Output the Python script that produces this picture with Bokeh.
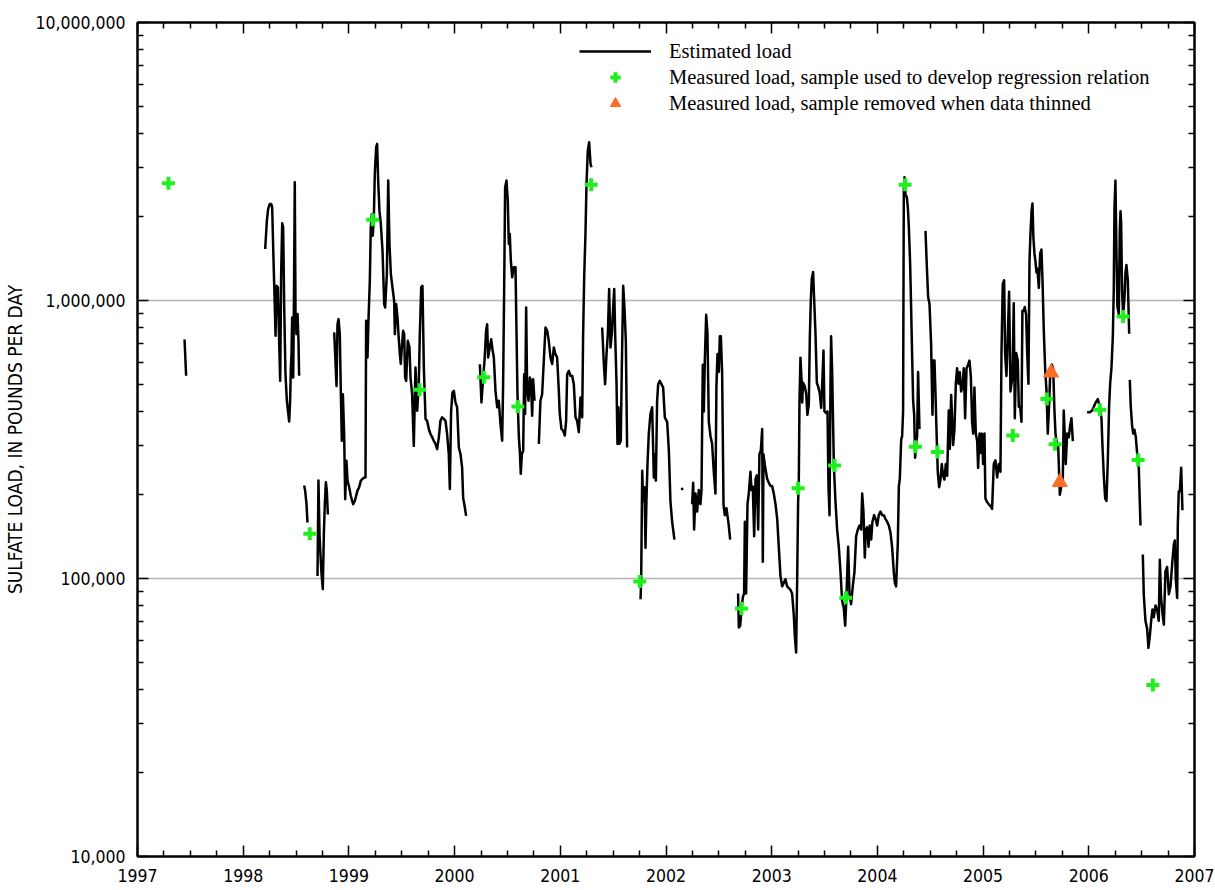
import math

from bokeh.embed import file_html
from bokeh.models import (FixedTicker, Legend, LegendItem, LinearAxis, LogAxis,
                          NumeralTickFormatter, Range1d)
from bokeh.plotting import figure
from bokeh.resources import INLINE

NAN = float("nan")

# Estimated daily sulfate load (thousands of pounds per day).
# NaN entries mark breaks in the estimated record.
est_year = [
    1997.445, 1997.460, NAN,
    1998.208, 1998.224, 1998.236, 1998.252, 1998.265, 1998.274, 1998.287, 1998.299,
    1998.306, 1998.315, 1998.328, 1998.337, 1998.350, 1998.359, 1998.369, 1998.378,
    1998.388, 1998.400, 1998.413, 1998.425, 1998.435, 1998.444, 1998.451, 1998.457,
    1998.463, 1998.473, 1998.479, 1998.488, 1998.495, 1998.504, 1998.514, 1998.523,
    1998.529, NAN,
    1998.577, 1998.586, 1998.599, 1998.608, NAN,
    1998.703, 1998.712, 1998.722, 1998.731, 1998.741, 1998.753, 1998.763, 1998.772,
    1998.782, 1998.791, 1998.801, NAN,
    1998.861, 1998.870, 1998.883, 1998.892, 1998.902, 1998.914, 1998.924, 1998.933,
    1998.943, 1998.955, 1998.965, 1998.977, 1998.987, 1999.003, 1999.018, 1999.040,
    1999.056, 1999.081, 1999.097, 1999.113, 1999.144, 1999.157, 1999.163, 1999.176,
    1999.185, 1999.198, 1999.207, 1999.217, 1999.226, 1999.236, 1999.245, 1999.258,
    1999.267, 1999.277, 1999.289, 1999.302, 1999.318, 1999.334, 1999.343, 1999.359,
    1999.372, 1999.384, 1999.397, 1999.412, 1999.428, 1999.435, 1999.447, 1999.460,
    1999.469, 1999.482, 1999.491, 1999.501, 1999.513, 1999.523, 1999.532, 1999.542,
    1999.557, 1999.573, 1999.583, 1999.598, 1999.614, 1999.630, 1999.646, 1999.661,
    1999.671, 1999.684, 1999.696, 1999.709, 1999.725, 1999.740, 1999.756, 1999.772,
    1999.788, 1999.803, 1999.819, 1999.835, 1999.851, 1999.866, 1999.882, 1999.898,
    1999.914, 1999.929, 1999.945, 1999.955, 1999.967, 1999.980, 1999.993, 2000.008,
    2000.024, 2000.040, 2000.056, 2000.071, 2000.081, 2000.097, 2000.109, NAN,
    2000.239, 2000.254, 2000.270, 2000.283, 2000.298, 2000.308, 2000.317, 2000.333,
    2000.346, 2000.358, 2000.371, 2000.387, 2000.403, 2000.418, 2000.434, 2000.450,
    2000.459, 2000.469, 2000.478, 2000.491, 2000.503, 2000.513, 2000.522, 2000.532,
    2000.545, 2000.560, 2000.576, 2000.585, 2000.595, 2000.608, 2000.617, 2000.626,
    2000.636, 2000.649, 2000.658, 2000.667, 2000.677, 2000.686, 2000.699, 2000.712,
    2000.721, 2000.734, 2000.743, 2000.756, NAN,
    2000.797, 2000.812, 2000.828, 2000.844, 2000.860, 2000.876, 2000.891, 2000.907,
    2000.923, 2000.939, 2000.954, 2000.970, 2000.986, 2000.995, 2001.011, 2001.027,
    2001.043, 2001.055, 2001.065, 2001.081, 2001.096, 2001.112, 2001.128, 2001.144,
    2001.159, 2001.175, 2001.191, 2001.207, 2001.216, 2001.226, 2001.238, 2001.248,
    2001.260, 2001.273, 2001.286, 2001.295, NAN,
    2001.396, 2001.412, 2001.424, 2001.437, 2001.450, 2001.462, 2001.475, 2001.487,
    2001.500, 2001.510, 2001.519, 2001.532, 2001.541, 2001.550, 2001.560, 2001.572,
    2001.582, 2001.595, 2001.607, 2001.620, 2001.632, NAN,
    2001.759, 2001.765, 2001.775, 2001.784, 2001.797, 2001.806, 2001.815, 2001.825,
    2001.837, 2001.853, 2001.869, 2001.885, 2001.894, 2001.904, 2001.916, 2001.926,
    2001.941, 2001.957, 2001.973, 2001.989, 2002.011, 2002.027, 2002.042, 2002.058,
    2002.080, NAN,
    2002.150, 2002.156, NAN,
    2002.247, 2002.257, 2002.266, 2002.279, 2002.295, 2002.310, 2002.326, 2002.336,
    2002.348, 2002.358, 2002.367, 2002.380, 2002.392, 2002.405, 2002.421, 2002.436,
    2002.452, 2002.468, 2002.477, 2002.487, 2002.500, 2002.509, 2002.519, 2002.531,
    2002.544, 2002.556, 2002.572, 2002.594, 2002.607, NAN,
    2002.682, 2002.689, 2002.702, 2002.714, 2002.727, 2002.739, 2002.746, 2002.758,
    2002.771, 2002.783, 2002.799, 2002.809, 2002.821, 2002.834, 2002.847, 2002.859,
    2002.872, 2002.884, 2002.897, 2002.910, 2002.916, 2002.922, 2002.935, 2002.957,
    2002.973, 2002.988, 2003.004, 2003.020, 2003.036, 2003.052, 2003.067, 2003.083,
    2003.099, 2003.115, 2003.130, 2003.146, 2003.162, 2003.178, 2003.193, 2003.209,
    2003.219, 2003.231, 2003.241, 2003.250, 2003.256, 2003.263, 2003.272, 2003.282,
    2003.288, 2003.297, 2003.313, 2003.326, 2003.338, 2003.351, 2003.361, 2003.370,
    2003.379, 2003.392, 2003.402, 2003.414, 2003.427, 2003.439, 2003.455, 2003.468,
    2003.480, 2003.490, 2003.499, 2003.515, 2003.528, 2003.537, 2003.547, 2003.556,
    2003.562, 2003.572, 2003.588, 2003.603, 2003.619, 2003.635, 2003.651, 2003.666,
    2003.682, 2003.695, 2003.707, 2003.723, 2003.736, 2003.751, 2003.767, 2003.783,
    2003.799, 2003.815, 2003.830, 2003.846, 2003.856, 2003.868, 2003.881, 2003.890,
    2003.903, 2003.916, 2003.928, 2003.941, 2003.953, 2003.969, 2003.982, 2003.998,
    2004.013, 2004.029, 2004.045, 2004.061, 2004.076, 2004.092, 2004.108, 2004.124,
    2004.139, 2004.155, 2004.165, 2004.177, 2004.193, 2004.203, 2004.212, 2004.225,
    2004.234, 2004.243, 2004.250, 2004.256, 2004.266, 2004.278, 2004.288, 2004.297,
    2004.310, 2004.319, 2004.329, 2004.338, 2004.348, 2004.357, 2004.367, 2004.376,
    2004.385, 2004.398, NAN,
    2004.455, 2004.467, 2004.480, 2004.493, 2004.508, 2004.521, 2004.530, 2004.540,
    2004.549, 2004.559, 2004.571, 2004.584, 2004.597, 2004.609, 2004.622, 2004.634,
    2004.647, 2004.660, 2004.675, 2004.685, 2004.698, 2004.707, 2004.716, 2004.729,
    2004.742, 2004.754, 2004.767, 2004.780, 2004.792, 2004.805, 2004.817, 2004.830,
    2004.843, 2004.858, 2004.871, 2004.884, 2004.896, 2004.906, 2004.918, 2004.931,
    2004.944, 2004.953, 2004.966, 2004.975, 2004.988, 2005.000, 2005.013, 2005.022,
    2005.038, 2005.054, 2005.070, 2005.085, 2005.101, 2005.117, 2005.133, 2005.149,
    2005.164, 2005.174, 2005.186, 2005.199, 2005.208, 2005.221, 2005.234, 2005.246,
    2005.259, 2005.278, 2005.290, 2005.300, 2005.313, 2005.328, 2005.338, 2005.350,
    2005.363, 2005.372, 2005.385, 2005.394, 2005.407, 2005.417, 2005.429, 2005.439,
    2005.448, 2005.458, 2005.467, 2005.476, 2005.486, 2005.495, 2005.505, 2005.514,
    2005.527, 2005.540, 2005.552, 2005.562, 2005.574, 2005.587, 2005.600, 2005.612,
    2005.625, 2005.637, 2005.650, 2005.663, 2005.675, 2005.685, 2005.694, 2005.710,
    2005.726, 2005.738, 2005.754, 2005.763, 2005.773, 2005.782, 2005.795, 2005.811,
    2005.823, 2005.836, 2005.849, NAN,
    2005.984, 2006.009, 2006.032, 2006.063, 2006.085, 2006.104, 2006.120, 2006.129,
    2006.142, 2006.155, 2006.167, 2006.180, 2006.192, 2006.202, 2006.214, 2006.227,
    2006.236, 2006.243, 2006.252, 2006.262, 2006.271, 2006.284, 2006.293, 2006.300,
    2006.306, 2006.315, 2006.325, 2006.337, 2006.347, 2006.356, 2006.369, 2006.382,
    NAN,
    2006.388, 2006.397, 2006.410, 2006.420, 2006.432, 2006.445, 2006.457, 2006.473,
    2006.489, NAN,
    2006.511, 2006.520, 2006.536, 2006.552, 2006.564, 2006.577, 2006.590, 2006.602,
    2006.615, 2006.631, 2006.646, 2006.662, 2006.672, 2006.684, 2006.697, 2006.710,
    2006.725, 2006.741, 2006.757, 2006.773, 2006.789, 2006.804, 2006.814, 2006.823,
    2006.836, 2006.842, 2006.851, 2006.861, 2006.874, 2006.886,
]

est_kpd = [
    724, 536, NAN,
    1532, 1937, 2134, 2225, 2225, 2164, 1391, 944,
    747, 1130, 1115, 789, 514, 1245, 1895, 1833,
    944, 543, 436, 396, 367, 436, 574, 641,
    869, 528, 894, 2662, 894, 757, 894, 716,
    536, NAN,
    216, 207, 185, 159, NAN,
    102, 225, 144, 122, 104, 91.5, 144, 185,
    222, 207, 170, NAN,
    768, 641, 493, 822, 857, 757, 460, 313,
    460, 331, 193, 265, 225, 213, 198, 185,
    190, 207, 213, 225, 231, 231, 845, 624,
    845, 1178, 1833, 2048, 1711, 1992, 2853, 3559,
    3659, 2700, 2105, 1885, 1511, 971, 944, 1245,
    2700, 1597, 1245, 1115, 998, 757, 971, 869,
    757, 641, 591, 678, 778, 757, 528, 514,
    716, 678, 528, 460, 300, 574, 401, 500,
    757, 1115, 1130, 574, 375, 369, 345, 331,
    322, 313, 305, 292, 322, 369, 380, 375,
    369, 331, 280, 210, 401, 467, 473, 430,
    413, 296, 280, 251, 195, 180, 168, NAN,
    590, 430, 528, 607, 778, 822, 624, 678,
    726, 668, 624, 473, 413, 436, 359, 313,
    500, 1115, 2554, 2700, 2287, 1597, 1735, 1391,
    1212, 1316, 1316, 800, 460, 322, 288, 238,
    280, 288, 543, 391, 944, 486, 436, 528,
    514, 385, 521, 436, NAN,
    305, 436, 460, 607, 800, 778, 716, 624,
    591, 678, 641, 624, 473, 391, 345, 340,
    327, 369, 543, 558, 536, 536, 500, 380,
    369, 336, 448, 380, 757, 1212, 1735, 2626,
    3462, 3709, 3099, 3015, NAN,
    800, 591, 500, 641, 757, 1100, 678, 757,
    944, 1100, 757, 500, 305, 413, 305, 313,
    574, 1130, 944, 716, 296, NAN,
    84.2, 98, 244, 190, 213, 129, 190, 258,
    331, 391, 413, 231, 280, 225, 436, 500,
    514, 500, 486, 380, 366, 289, 190, 160,
    138, NAN,
    212, 208, NAN,
    185, 221, 150, 202, 174, 208, 185, 208,
    587, 399, 605, 888, 766, 366, 325, 306,
    242, 202, 491, 642, 553, 743, 743, 553,
    185, 169, 179, 155, 138, NAN,
    88.3, 66.6, 67.6, 77.3, 85.7, 88.3, 160, 88.3,
    185, 202, 242, 208, 214, 142, 228, 235,
    150, 280, 289, 345, 115, 280, 256, 228,
    221, 215, 215, 202, 185, 164, 130, 102,
    93.7, 96.5, 99.4, 93.7, 92.3, 91, 88.3, 73.9,
    61.9, 54.2, 99.4, 190, 215, 436, 623, 522,
    430, 506, 491, 463, 388, 423, 743, 1000,
    1194, 1267, 1000, 766, 506, 491, 463, 411,
    522, 661, 399, 394, 399, 215, 169, 491,
    743, 553, 256, 190, 150, 130, 105.5, 83.2,
    78.4, 67.6, 85.7, 130, 88.3, 80.8, 93.7, 105.5,
    142, 150, 155, 150, 202, 174, 119, 150,
    153, 130, 155, 138, 160, 169, 164, 155,
    169, 174, 169, 169, 164, 160, 155, 146,
    130, 105.5, 96.5, 93.7, 134, 215, 228, 316,
    325, 399, 2503, 2777, 2394, 2360, 2159, 1862,
    1345, 943, 623, 436, 388, 272, 306, 325,
    553, 345, NAN,
    1780, 1345, 1030, 971, 701, 388, 608, 608,
    471, 343, 242, 213, 227, 258, 234, 227,
    258, 234, 402, 293, 457, 377, 302, 343,
    502, 570, 502, 552, 471, 486, 570, 377,
    570, 588, 608, 535, 366, 332, 486, 332,
    312, 250, 332, 283, 332, 258, 332, 194,
    188, 185, 182, 178, 258, 266, 231, 258,
    242, 647, 1146, 1183, 647, 535, 759, 1076,
    471, 535, 978, 377, 647, 608, 415, 415,
    366, 918, 918, 948, 890, 647, 502, 1386,
    1732, 2094, 2232, 1678, 1477, 1386, 1260, 1301,
    1110, 1477, 1525, 1183, 783, 570, 471, 332,
    428, 570, 588, 570, 402, 332, 312, 302,
    200, 213, 227, 402, 322, 258, 332, 322,
    354, 377, 312, NAN,
    396, 396, 402, 428, 442, 415, 377, 302,
    234, 194, 190, 266, 415, 502, 570, 735,
    1076, 2162, 2699, 1477, 948, 890, 1787, 2094,
    1904, 1076, 890, 1010, 1260, 1343, 1183, 759,
    NAN,
    518, 415, 354, 332, 343, 322, 283, 250,
    155, NAN,
    122, 87.8, 70.4, 66.0, 56.3, 61.9, 70.4, 77.4,
    72.6, 79.9, 77.4, 70.4, 116.8, 85.1, 75, 68.2,
    106, 110, 87.8, 93.6, 113, 132.5, 137, 99.7,
    85.1, 155, 206, 206, 250, 176,
]

# Measured loads of samples used to develop the regression relation
used_year = [1997.293, 1998.630, 1999.226, 1999.668, 2000.276, 2000.598, 2001.292,
             2001.752, 2002.714, 2003.250, 2003.594, 2003.701, 2004.262, 2004.360,
             2004.568, 2005.281, 2005.603, 2005.681, 2006.104, 2006.325, 2006.467,
             2006.606]
used_kpd = [2640, 145, 1950, 477, 530, 416, 2610,
            97.5, 78, 211, 255, 85.3, 2610, 298,
            285, 327, 442, 304, 405, 875, 267,
            41.4]

# Measured loads of samples removed when the data were thinned
removed_year = [2005.644, 2005.726]
removed_kpd = [550, 222]

year_ticks = list(range(1997, 2008))
load_ticks = [10_000, 100_000, 1_000_000, 10_000_000]

LABEL_FONT = "DejaVu Sans Condensed"
LEGEND_FONT = "Liberation Serif"
GREEN = "#1ef01e"
ORANGE = "#fb6d24"


def to_pounds(kpd):
    return [v * 1000 if not math.isnan(v) else NAN for v in kpd]


p = figure(
    width=1215, height=890,
    output_backend="svg", toolbar_location=None,
    x_range=Range1d(1997, 2007), y_range=Range1d(1e4, 1e7),
    y_axis_type="log",
    min_border_left=137, min_border_right=21, min_border_top=22, min_border_bottom=34,
    background_fill_color="white", border_fill_color="white",
    outline_line_color="black", outline_line_width=2,
)

x_minor = [y + q / 4 for y in range(1997, 2007) for q in (1, 2, 3)]
y_minor = [m * 10 ** e for e in range(4, 7) for m in range(2, 10)]


def style_axis(ax, show_labels):
    ax.axis_line_color = "black"
    ax.axis_line_width = 2
    ax.major_tick_in = 11
    ax.major_tick_out = 0
    ax.minor_tick_in = 6
    ax.minor_tick_out = 0
    ax.major_tick_line_color = "black"
    ax.major_tick_line_width = 1.5
    ax.minor_tick_line_color = "black"
    ax.minor_tick_line_width = 1.5
    if show_labels:
        ax.major_label_text_font = LABEL_FONT
        ax.major_label_text_font_size = "17.5px"
        ax.major_label_text_color = "black"
    else:
        # tick marks only: labels are not painted and take almost no room
        ax.major_label_text_font_size = "1px"
        ax.major_label_text_color = None
        ax.major_label_standoff = 0


# bottom and top year axes
xb = p.xaxis[0]
xb.ticker = FixedTicker(ticks=year_ticks, minor_ticks=x_minor)
style_axis(xb, True)
xb.major_label_standoff = 12

xt = LinearAxis(ticker=FixedTicker(ticks=year_ticks, minor_ticks=x_minor))
style_axis(xt, False)
p.add_layout(xt, "above")

# left and right load axes
yl = p.yaxis[0]
yl.ticker = FixedTicker(ticks=load_ticks, minor_ticks=y_minor)
yl.formatter = NumeralTickFormatter(format="0,0")
style_axis(yl, True)
yl.major_label_standoff = 12
yl.axis_label = "SULFATE LOAD, IN POUNDS PER DAY"
yl.axis_label_text_font = LABEL_FONT
yl.axis_label_text_font_size = "19px"
yl.axis_label_text_font_style = "normal"
yl.axis_label_text_color = "black"
yl.axis_label_standoff = 6

yr = LogAxis(ticker=FixedTicker(ticks=load_ticks, minor_ticks=y_minor))
style_axis(yr, False)
p.add_layout(yr, "right")

# grid: horizontal lines at the decades only
p.xgrid.visible = False
p.ygrid.ticker = FixedTicker(ticks=[100_000, 1_000_000])
p.ygrid.grid_line_color = "#b4b4b4"
p.ygrid.grid_line_width = 1.5

r_est = p.line(est_year, to_pounds(est_kpd), line_color="black", line_width=2.5,
               line_join="round")
r_used = p.scatter(used_year, to_pounds(used_kpd), marker="cross", size=13,
                   line_color=GREEN, line_width=4)
r_removed = p.scatter(removed_year, to_pounds(removed_kpd), marker="triangle", size=15,
                      fill_color=ORANGE, line_color=ORANGE, line_width=1)

legend = Legend(
    items=[
        LegendItem(label="Estimated load", renderers=[r_est]),
        LegendItem(label="Measured load, sample used to develop regression relation",
                   renderers=[r_used]),
        LegendItem(label="Measured load, sample removed when data thinned",
                   renderers=[r_removed]),
    ],
    location=(442, 740),
    glyph_width=72, glyph_height=26, label_height=20,
    label_standoff=18, spacing=0, padding=0, margin=0,
    border_line_color=None, background_fill_alpha=0,
    label_text_font=LEGEND_FONT, label_text_font_size="20.5px", label_text_color="black",
)
p.add_layout(legend)

open("out.html", "w").write(file_html(p, INLINE))
